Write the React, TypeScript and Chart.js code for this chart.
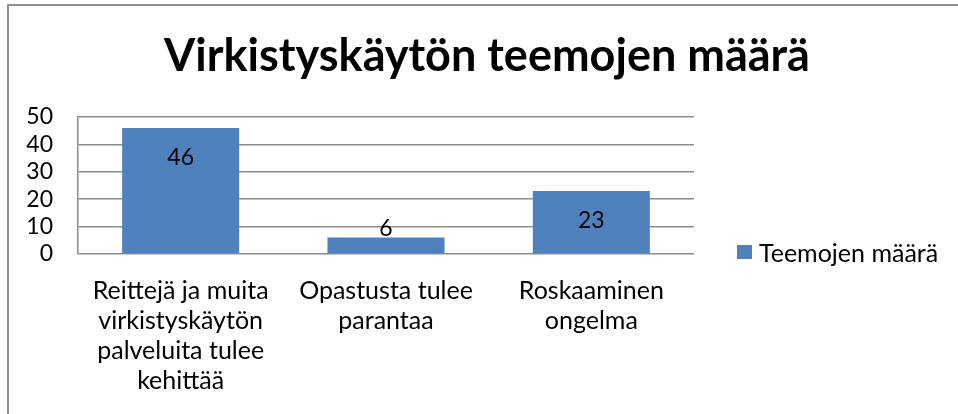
import React, { useEffect, useRef } from "react";
import { Chart, registerables } from "chart.js";

Chart.register(...registerables);

const titleText = "Virkistyskäytön teemojen määrä";
const seriesName = "Teemojen määrä";
const categories: string[][] = [
  ["Reittejä ja muita", "virkistyskäytön", "palveluita tulee", "kehittää"],
  ["Opastusta tulee", "parantaa"],
  ["Roskaaminen", "ongelma"],
];
const values = [46, 6, 23];
const yTicks = [0, 10, 20, 30, 40, 50];

const FONT = "Lato, Carlito, 'Noto Sans', sans-serif";
const BAR = "#4f81bd";
const GRID = "#8c8c8c";

const titlePlugin = {
  id: "customTitle",
  afterDraw(chart: any) {
    const ctx = chart.ctx;
    ctx.save();
    ctx.font = `bold 45px ${FONT}`;
    ctx.fillStyle = "#000";
    ctx.textAlign = "center";
    ctx.textBaseline = "alphabetic";
    ctx.fillText(titleText, 487, 71);
    ctx.restore();
  },
};

const dataLabels = {
  id: "dataLabels",
  afterDatasetsDraw(chart: any) {
    const ctx = chart.ctx;
    const meta = chart.getDatasetMeta(0);
    ctx.save();
    ctx.font = `23px ${FONT}`;
    ctx.fillStyle = "#000";
    ctx.textAlign = "center";
    ctx.textBaseline = "middle";
    meta.data.forEach((bar: any, i: number) => {
      const v = chart.data.datasets[0].data[i];
      const h = bar.base - bar.y;
      const y = h > 50 ? bar.y + 30 : bar.y - 9;
      ctx.fillText(String(v), bar.x, y);
    });
    ctx.restore();
  },
};

const customLegend = {
  id: "customLegend",
  afterDraw(chart: any) {
    const ctx = chart.ctx;
    const ca = chart.chartArea;
    const ds = chart.data.datasets[0];
    const x = ca.right + 43;
    ctx.save();
    ctx.fillStyle = ds.backgroundColor;
    ctx.fillRect(x, ca.bottom - 9, 15, 14);
    ctx.font = `25px ${FONT}`;
    ctx.fillStyle = "#000";
    ctx.textAlign = "left";
    ctx.textBaseline = "alphabetic";
    ctx.fillText(ds.label, x + 22, ca.bottom + 8);
    ctx.restore();
  },
};

export default function App() {
  const ref = useRef<HTMLCanvasElement | null>(null);
  useEffect(() => {
    if (!ref.current) return;
    const chart = new Chart(ref.current, {
      type: "bar",
      data: {
        labels: categories,
        datasets: [
          {
            label: seriesName,
            data: values,
            backgroundColor: BAR,
            borderWidth: 0,
            categoryPercentage: 0.57,
            barPercentage: 1,
          },
        ],
      },
      options: {
        animation: false,
        responsive: false,
        maintainAspectRatio: false,
        layout: { padding: { left: 0, right: 264, top: 117, bottom: 0 } },
        plugins: {
          legend: { display: false },
          tooltip: { enabled: false },
          title: { display: false },
        },
        scales: {
          x: {
            grid: { display: false, drawTicks: false },
            border: { display: false },
            ticks: {
              color: "#000",
              font: { family: FONT, size: 25, lineHeight: 1.2 },
              padding: 22,
              maxRotation: 0,
              autoSkip: false,
            },
            afterFit(scale: any) {
              scale.height = 160;
            },
          },
          y: {
            min: 0,
            max: 50,
            afterBuildTicks(scale: any) {
              scale.ticks = yTicks.map((v) => ({ value: v }));
            },
            grid: { color: GRID, lineWidth: 1.5, drawTicks: false },
            border: { display: true, color: GRID, width: 1.5 },
            ticks: {
              color: "#000",
              font: { family: FONT, size: 23 },
              padding: 25,
              autoSkip: false,
            },
            afterFit(scale: any) {
              scale.width = 78;
            },
          },
        },
      },
      plugins: [dataLabels, customLegend, titlePlugin],
    });
    return () => chart.destroy();
  }, []);

  return (
    <div style={{ position: "fixed", left: 0, top: 0, width: 958, height: 414, background: "#fff", overflow: "hidden" }}>
      <canvas ref={ref} width={958} height={414} style={{ position: "absolute", left: 0, top: 0, width: 958, height: 414 }} />
      <div
        style={{
          position: "absolute",
          left: 7,
          top: 4,
          width: 1000,
          height: 1000,
          borderLeft: "2px solid #8d8d8d",
          borderTop: "2px solid #8d8d8d",
          pointerEvents: "none",
        }}
      />
    </div>
  );
}
